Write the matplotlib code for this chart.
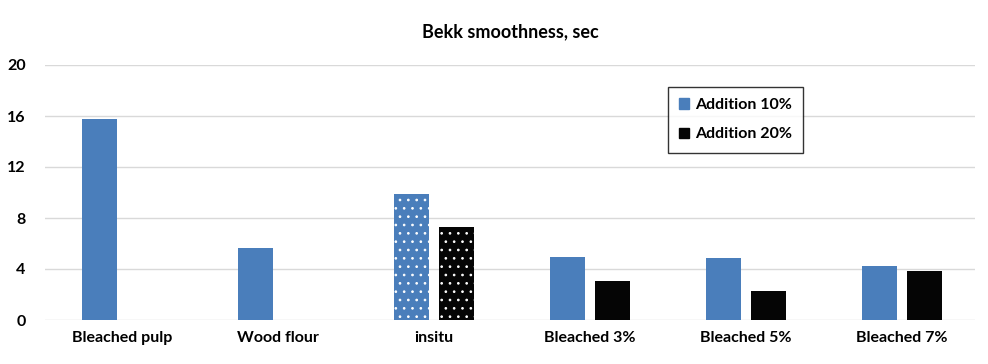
import numpy as np
import matplotlib.pyplot as plt

plt.rcParams['font.family'] = ['Lato', 'DejaVu Sans']
plt.rcParams['hatch.linewidth'] = 0.7

# data
categories = ["Bleached pulp", "Wood flour", "insitu", "Bleached 3%", "Bleached 5%", "Bleached 7%"]
add10 = [15.8, 5.65, 9.9, 4.95, 4.85, 4.25]
add20 = [np.nan, np.nan, 7.3, 3.05, 2.25, 3.85]
yticks = [0, 4, 8, 12, 16, 20]

blue = '#4a7ebb'
black = '#050505'

fig = plt.figure(figsize=(9.88, 3.64), dpi=100)
ax = fig.add_axes([45/988, 44/364, 930/988, 255/364])

x = np.arange(len(categories))
w = 0.225
off = 0.143

b1 = ax.bar(x - off, add10, w, color=blue, label='Addition 10%', zorder=3)
b2 = ax.bar(x + off, add20, w, color=black, label='Addition 20%', zorder=3)

# insitu bars are dotted
for bars in (b1, b2):
    bars[2].set_hatch('..')
    bars[2].set_edgecolor('white')
    bars[2].set_linewidth(0)

ax.set_xlim(-0.4925, 5.468)
ax.set_ylim(0, 20)
ax.set_yticks(yticks)
ax.set_xticks(x)
ax.set_xticklabels(categories, fontsize=11.5, fontweight='bold')
ax.tick_params(axis='y', labelsize=11.5, length=0, pad=14)
ax.tick_params(axis='x', length=0, pad=8)
for lab in ax.get_yticklabels():
    lab.set_fontweight('bold')

ax.grid(axis='y', color='#d9d9d9', linewidth=1, zorder=0)
for s in ax.spines.values():
    s.set_visible(False)

ax.set_title('Bekk smoothness, sec', fontsize=13, fontweight='bold', pad=20)

h1 = plt.Rectangle((0, 0), 1, 1, color=blue)
h2 = plt.Rectangle((0, 0), 1, 1, color=black)
leg = ax.legend([h1, h2], ['Addition 10%', 'Addition 20%'], loc='upper left',
                bbox_to_anchor=(615/930, 241/255), frameon=True, fancybox=False,
                prop={'weight': 'bold', 'size': 11.5}, handlelength=0.6, handleheight=0.6,
                handletextpad=0.4, labelspacing=0.95, borderpad=0.7)
leg.get_frame().set_edgecolor('black')
leg.get_frame().set_linewidth(1)

fig.savefig('out.png', dpi=100)
